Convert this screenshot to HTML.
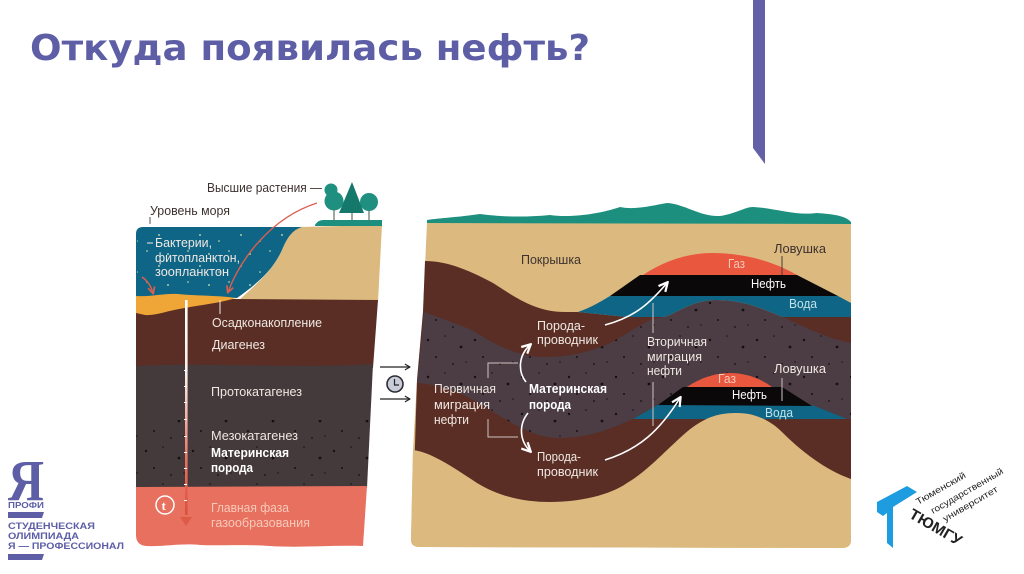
<!DOCTYPE html>
<html lang="ru"><head><meta charset="utf-8"><title>Откуда появилась нефть?</title>
<style>
html,body{margin:0;padding:0;background:#fff;width:1024px;height:574px;overflow:hidden}
svg{display:block}
text{font-family:"Liberation Sans",sans-serif;font-size:13px}
.w{fill:#efe8e2}.d{fill:#3d3230}.b{font-weight:bold;fill:#fff}
</style></head><body>
<svg width="1024" height="574" viewBox="0 0 1024 574" xmlns="http://www.w3.org/2000/svg">
<defs>
<pattern id="sp" width="47" height="37" patternUnits="userSpaceOnUse">
<g fill="#15100f"><circle cx="5" cy="7" r="1.2"/><circle cx="22" cy="3" r=".8"/><circle cx="38" cy="14" r="1.4"/><circle cx="13" cy="24" r="1"/><circle cx="30" cy="31" r=".9"/><circle cx="43" cy="29" r=".7"/></g>
</pattern>
<pattern id="wd" width="41" height="31" patternUnits="userSpaceOnUse">
<g fill="#d8e8b8"><circle cx="4" cy="6" r=".9"/><circle cx="24" cy="3" r=".8"/><circle cx="36" cy="18" r=".9"/><circle cx="14" cy="24" r=".8"/></g>
</pattern>
<marker id="ar" viewBox="0 0 10 10" refX="8" refY="5" markerWidth="7" markerHeight="7" orient="auto"><path d="M1 1L9 5L1 9" fill="none" stroke="#fff" stroke-width="2"/></marker>
<marker id="arr" viewBox="0 0 10 10" refX="8" refY="5" markerWidth="6" markerHeight="6" orient="auto"><path d="M1 1L9 5L1 9" fill="none" stroke="#d9604f" stroke-width="2"/></marker>
<marker id="ark" viewBox="0 0 10 10" refX="9" refY="5" markerWidth="6" markerHeight="6" orient="auto"><path d="M2 1L9 5L2 9" fill="none" stroke="#222" stroke-width="1.6"/></marker>
<linearGradient id="lg" x1="0" y1="0" x2="0" y2="1"><stop offset="0" stop-color="#fff"/><stop offset=".35" stop-color="#fbeee8"/><stop offset=".75" stop-color="#e8705f"/><stop offset="1" stop-color="#d9503c"/></linearGradient>
</defs>

<text x="30" y="60" textLength="560" lengthAdjust="spacingAndGlyphs" style="font-family:'DejaVu Sans',sans-serif;font-size:36px;font-weight:bold;fill:#5d5ea6">Откуда появилась нефть?</text>
<polygon points="753,0 765,0 765,164 753,148" fill="#6460a8"/>

<!-- Left panel -->
<path d="M300,227 L382,225 L378,302 L237,302 C255,285 272,272 282,250 C287,238 292,230 300,227Z" fill="#dcb97f"/>
<path d="M143,227 L302,227 C292,230 287,238 282,250 C272,272 255,285 237,298 L136,298 L136,234 Q136,227 143,227Z" fill="#0f6585"/>
<path d="M143,228 L300,228 C290,232 286,240 282,250 C272,272 255,285 237,297 L137,296 L137,234Z" fill="url(#wd)"/>
<path d="M136,300 L233,299 L378,300 L373,368 L136,368Z" fill="#5a2e24"/>
<path d="M136,296 C150,297 165,293 178,294 C195,296 215,295 236,298 C220,303 200,305 185,308 C170,310 155,316 145,315 L136,313Z" fill="#f0a637"/>
<path d="M136,366 C200,362 300,369 373,364 L367,488 L136,488Z" fill="#443a3b"/>
<path d="M136,420 L370,420 L367,488 L136,488Z" fill="url(#sp)"/>
<path d="M136,487 L367,486 L363,546 C330,545 300,548 270,546 C240,544 220,546 200,545 C180,543 165,547 146,546 Q136,545 136,535Z" fill="#e8705f"/>
<path d="M315,225 Q318,220 323,220 L382,220 L382,226 L315,226Z" fill="#1d8f7e"/>
<g stroke="#5f6f5d" stroke-width="1.2"><line x1="334" y1="205" x2="334" y2="221"/><line x1="352" y1="205" x2="352" y2="221"/><line x1="369" y1="205" x2="369" y2="221"/></g>
<g fill="#1f8f80"><circle cx="331" cy="190" r="6.5"/><circle cx="334" cy="201" r="9.5"/><circle cx="369" cy="202" r="9"/></g>
<polygon points="352,182 339,213 364,213" fill="#14796b"/>
<rect x="185" y="300" width="2.6" height="215" fill="url(#lg)"/>
<polygon points="180,517 192,517 186,526" fill="#dd5a46"/>
<g fill="#fff"><rect x="184" y="370" width="3" height="1"/><rect x="184" y="386" width="3" height="1"/><rect x="184" y="402" width="3" height="1"/><rect x="184" y="419" width="3" height="1"/><rect x="184" y="436" width="3" height="1"/><rect x="184" y="452" width="3" height="1"/><rect x="184" y="468" width="3" height="1"/><rect x="184" y="484" width="3" height="1"/><rect x="184" y="500" width="3" height="1"/></g>
<circle cx="165" cy="505" r="9" fill="#e8705f" stroke="#fff" stroke-width="1.5"/>
<text x="161.500" y="510" style="font-size:13px;font-weight:bold;fill:#fff;font-family:'Liberation Serif',serif">t</text>
<path d="M317,203 C270,218 240,260 228,292" fill="none" stroke="#d9604f" stroke-width="1.4" marker-end="url(#arr)"/>
<path d="M142,277 C148,281 151,286 153,293" fill="none" stroke="#d9604f" stroke-width="1.4" marker-end="url(#arr)"/>
<line x1="150" y1="217" x2="150" y2="224" stroke="#555"/>
<line x1="220" y1="300" x2="220" y2="314" stroke="#efe8e2"/>
<line x1="147" y1="243" x2="153" y2="243" stroke="#efe8e2"/>
<text class="d" x="207" y="192" textLength="115" lengthAdjust="spacingAndGlyphs">Высшие растения —</text>
<text class="d" x="150" y="215" textLength="80" lengthAdjust="spacingAndGlyphs">Уровень моря</text>
<text class="w" x="155" y="247" textLength="57" lengthAdjust="spacingAndGlyphs">Бактерии,</text>
<text class="w" x="155" y="262" textLength="85" lengthAdjust="spacingAndGlyphs">фитопланктон,</text>
<text class="w" x="155" y="276" textLength="74" lengthAdjust="spacingAndGlyphs">зоопланктон</text>
<text class="w" x="212" y="327" textLength="110" lengthAdjust="spacingAndGlyphs">Осадконакопление</text>
<text class="w" x="212" y="349" textLength="53" lengthAdjust="spacingAndGlyphs">Диагенез</text>
<text class="w" x="211" y="396" textLength="91" lengthAdjust="spacingAndGlyphs">Протокатагенез</text>
<text class="w" x="211" y="440" textLength="87" lengthAdjust="spacingAndGlyphs">Мезокатагенез</text>
<text class="b" x="211" y="457" textLength="78" lengthAdjust="spacingAndGlyphs">Материнская</text>
<text class="b" x="211" y="472" textLength="42" lengthAdjust="spacingAndGlyphs">порода</text>
<text x="211" y="512" textLength="78" lengthAdjust="spacingAndGlyphs" fill="#f8c9ba">Главная фаза</text>
<text x="211" y="527" textLength="99" lengthAdjust="spacingAndGlyphs" fill="#f8c9ba">газообразования</text>

<!-- Middle arrows -->
<line x1="380" y1="367" x2="410" y2="367" stroke="#222" stroke-width="1.2" marker-end="url(#ark)"/>
<line x1="380" y1="399" x2="410" y2="399" stroke="#222" stroke-width="1.2" marker-end="url(#ark)"/>
<circle cx="395" cy="384" r="8" fill="#c9cdd9" stroke="#2b2b33" stroke-width="1.6"/>
<path d="M394.500,379V385H399" fill="none" stroke="#222" stroke-width="1.2"/>

<!-- Right panel -->
<path d="M427,222 L851,222 L851,540 Q851,548 842,548 L420,547 Q411,547 411,540 L413,450 L417,380 L423,312Z" fill="#dcb97f"/>
<path d="M425,261 C445,261 465,268 493,283 C515,297 535,312 565,312 L578,312 L627,317 L851,317 L851,510 L413,510 L417,380 L423,312Z" fill="#5a2e24"/>
<path d="M424,312 C445,320 465,326 477,333 C495,345 520,357 543,357 C570,357 590,352 610,343 C625,335 640,325 650,320 L663,317 C675,315 690,300 717,300 C745,300 765,310 783,317 C800,325 825,338 851,343 L851,419 L633,419 C612,428 590,438 560,438 C535,438 515,425 493,412 C475,400 450,385 417,383Z" fill="#4c3c44"/>
<path d="M424,312 C445,320 465,326 477,333 C495,345 520,357 543,357 C570,357 590,352 610,343 C625,335 640,325 650,320 L663,317 C675,315 690,300 717,300 C745,300 765,310 783,317 C800,325 825,338 851,343 L851,419 L633,419 C612,428 590,438 560,438 C535,438 515,425 493,412 C475,400 450,385 417,383Z" fill="url(#sp)"/>
<path d="M578,312 C590,308 600,302 610,296 L838,296 L851,303 L851,317 L783,317 C765,310 745,300 717,300 C690,300 675,315 663,317 L627,317Z" fill="#0f6585"/>
<path d="M643,275 C665,260 690,253 712,253 C745,253 775,262 797,275Z" fill="#e9573f"/>
<polygon points="610,296 640,275 797,275 838,296" fill="#0a0808"/>
<polygon points="633,419 658,405 812,405 847,419" fill="#0f6585"/>
<path d="M687,387 C700,378 715,373 730,373 C745,373 760,378 772,387Z" fill="#e9573f"/>
<polygon points="658,405 683,387 782,387 812,406" fill="#0a0808"/>
<path d="M413,450 C430,452 450,465 477,483 C500,497 525,502 550,502 C580,502 610,495 627,483 C650,470 675,440 693,427 C710,415 722,413 737,413 C755,413 770,420 783,433 C800,450 825,470 851,479 L851,540 Q851,548 842,548 L420,547 Q411,547 411,540Z" fill="#dcb97f"/>
<path d="M427,223 L427,220 C440,218 460,217 480,214 C495,216 520,218 550,215 C570,218 600,214 620,207 C635,210 650,206 667,203 C685,204 700,217 720,216 C735,214 745,207 753,207 C775,208 795,216 817,213 C830,214 845,215 851,222 L851,224Z" fill="#1d8f7e"/>
<g fill="none" stroke="#fff" stroke-width="1.6">
<path d="M605,325 C635,317 650,303 667,283" marker-end="url(#ar)"/>
<path d="M605,460 C640,449 660,430 680,398" marker-end="url(#ar)"/>
<path d="M526,382 C518,372 518,356 530,345" marker-end="url(#ar)"/>
<path d="M528,413 C519,424 519,440 530,451" marker-end="url(#ar)"/>
</g>
<g fill="none" stroke="#cfc4bf" stroke-width="1">
<path d="M518,363H488V378"/><path d="M488,419V437H518"/>
<line x1="653" y1="303" x2="653" y2="333"/><line x1="653" y1="382" x2="653" y2="426"/>
<line x1="782" y1="378" x2="782" y2="401"/>
</g>
<line x1="782" y1="256" x2="782" y2="275" stroke="#4a3a30"/>
<text class="d" x="521" y="264" textLength="60" lengthAdjust="spacingAndGlyphs">Покрышка</text>
<text class="d" x="774" y="253" textLength="52" lengthAdjust="spacingAndGlyphs">Ловушка</text>
<text x="728" y="268" textLength="17" lengthAdjust="spacingAndGlyphs" fill="#f8c9ba">Газ</text>
<text x="751" y="288" textLength="35" lengthAdjust="spacingAndGlyphs" fill="#fff">Нефть</text>
<text x="789" y="308" textLength="28" lengthAdjust="spacingAndGlyphs" fill="#bfe3ea">Вода</text>
<text class="w" x="537" y="330" textLength="48" lengthAdjust="spacingAndGlyphs">Порода-</text>
<text class="w" x="537" y="344" textLength="61" lengthAdjust="spacingAndGlyphs">проводник</text>
<text class="w" x="647" y="346" textLength="60" lengthAdjust="spacingAndGlyphs">Вторичная</text>
<text class="w" x="647" y="361" textLength="55" lengthAdjust="spacingAndGlyphs">миграция</text>
<text class="w" x="647" y="375" textLength="35" lengthAdjust="spacingAndGlyphs">нефти</text>
<text class="w" x="774" y="373" textLength="52" lengthAdjust="spacingAndGlyphs">Ловушка</text>
<text x="718" y="383" textLength="18" lengthAdjust="spacingAndGlyphs" fill="#f8c9ba">Газ</text>
<text x="732" y="399" textLength="35" lengthAdjust="spacingAndGlyphs" fill="#fff">Нефть</text>
<text x="765" y="417" textLength="28" lengthAdjust="spacingAndGlyphs" fill="#bfe3ea">Вода</text>
<text class="w" x="434" y="393" textLength="62" lengthAdjust="spacingAndGlyphs">Первичная</text>
<text class="w" x="434" y="409" textLength="56" lengthAdjust="spacingAndGlyphs">миграция</text>
<text class="w" x="434" y="424" textLength="35" lengthAdjust="spacingAndGlyphs">нефти</text>
<text class="b" x="529" y="393" textLength="78" lengthAdjust="spacingAndGlyphs">Материнская</text>
<text class="b" x="529" y="409" textLength="42" lengthAdjust="spacingAndGlyphs">порода</text>
<text class="w" x="537" y="461" textLength="44" lengthAdjust="spacingAndGlyphs">Порода-</text>
<text class="w" x="537" y="476" textLength="61" lengthAdjust="spacingAndGlyphs">проводник</text>

<!-- Profi logo -->
<text x="8" y="500" textLength="36" lengthAdjust="spacingAndGlyphs" style="font-family:'Liberation Serif',serif;font-size:58px;font-weight:bold;fill:#5d5ea6">Я</text>
<text x="8" y="508" textLength="36" lengthAdjust="spacingAndGlyphs" style="font-size:8.500px;font-weight:bold;fill:#5d5ea6">ПРОФИ</text>
<polygon points="8,512 44,512 42,518 8,518" fill="#5d5ea6"/>
<g style="fill:#5d5ea6"><text x="8" y="529" textLength="87" lengthAdjust="spacingAndGlyphs" style="font-size:9px;font-weight:bold">СТУДЕНЧЕСКАЯ</text>
<text x="8" y="539" textLength="71" lengthAdjust="spacingAndGlyphs" style="font-size:9px;font-weight:bold">ОЛИМПИАДА</text>
<text x="8" y="549" textLength="116" lengthAdjust="spacingAndGlyphs" style="font-size:9px;font-weight:bold">Я — ПРОФЕССИОНАЛ</text></g>
<polygon points="8,554 44,554 42,560 8,560" fill="#5d5ea6"/>

<!-- TyumSU logo -->
<polygon points="877,502 907,486 917,492 893,507 893,548 887,543 887,513 883,516 877,512" fill="#1e9ce0"/>
<g fill="#222">
<text transform="translate(918,505) rotate(-30)" textLength="56" lengthAdjust="spacingAndGlyphs" style="font-size:9px">Тюменский</text>
<text transform="translate(933,514) rotate(-30)" textLength="82" lengthAdjust="spacingAndGlyphs" style="font-size:9px">государственный</text>
<text transform="translate(945,522) rotate(-30)" textLength="62" lengthAdjust="spacingAndGlyphs" style="font-size:9px">университет</text>
<text transform="translate(908,517) rotate(30)" textLength="58" lengthAdjust="spacingAndGlyphs" style="font-size:15px;font-weight:bold">ТЮМГУ</text>
</g>
</svg>
</body></html>
